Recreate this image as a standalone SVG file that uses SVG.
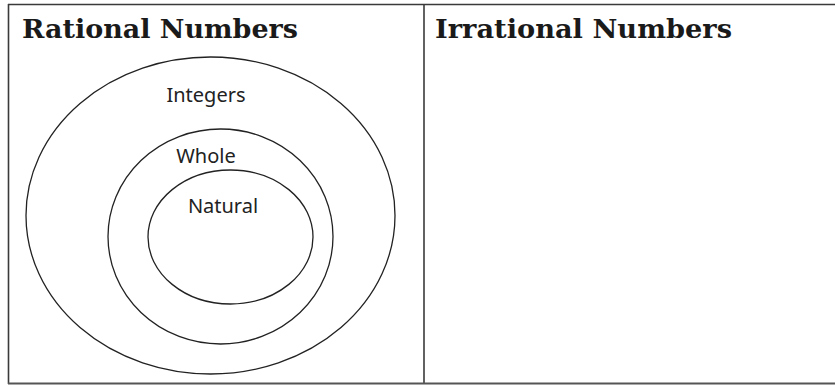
<svg xmlns="http://www.w3.org/2000/svg" width="835" height="385" viewBox="0 0 835 385">
<style>
.frame{stroke:#3a3a3a;stroke-width:1.6;fill:none}
.set{stroke:#222;stroke-width:1.3;fill:none}
.title{font-family:"DejaVu Serif","Liberation Serif",serif;font-weight:bold;font-size:26.5px;fill:#1a1a1a}
.lbl{font-family:"Noto Sans","Open Sans",sans-serif;font-size:20px;fill:#222;text-anchor:middle}
</style>
<rect width="835" height="385" fill="#fff"/>
<g id="frame">
<line class="frame" x1="8" y1="4.5" x2="835" y2="4.5"/>
<line class="frame" x1="8.5" y1="4" x2="8.5" y2="384"/>
<line class="frame" x1="424" y1="4" x2="424" y2="384"/>
<line x1="8" y1="383.5" x2="835" y2="383.5" stroke="#555" stroke-width="2.2"/>
</g>
<g id="rational">
<text class="title" x="22" y="38" textLength="276" lengthAdjust="spacingAndGlyphs">Rational Numbers</text>
</g>
<g id="irrational">
<text class="title" x="435" y="38" textLength="297" lengthAdjust="spacingAndGlyphs">Irrational Numbers</text>
</g>
<g id="integers">
<ellipse class="set" cx="210.5" cy="215.5" rx="184.5" ry="158.5"/>
<text class="lbl" x="206" y="102">Integers</text>
</g>
<g id="whole">
<ellipse class="set" cx="220.5" cy="236.5" rx="112.5" ry="107.5"/>
<text class="lbl" x="206" y="163">Whole</text>
</g>
<g id="natural">
<ellipse class="set" cx="230.5" cy="237" rx="82.5" ry="67"/>
<text class="lbl" x="223" y="213">Natural</text>
</g>
</svg>
